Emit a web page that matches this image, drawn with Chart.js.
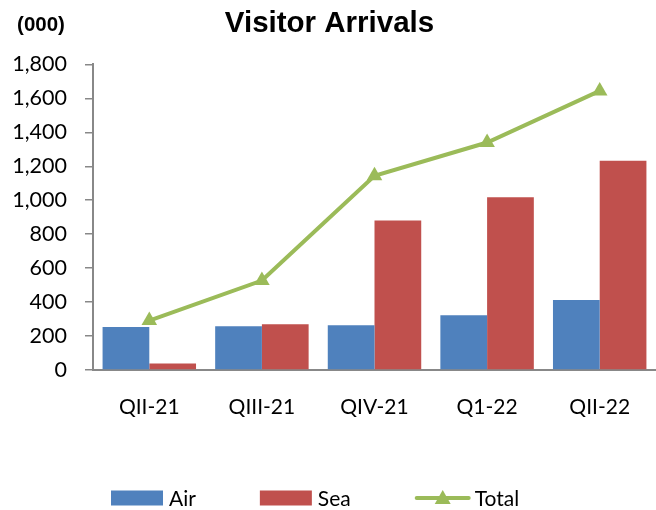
<!DOCTYPE html>
<html>
<head>
<meta charset="utf-8">
<script src="https://cdn.jsdelivr.net/npm/chart.js@4.4.1/dist/chart.umd.min.js"></script>
<style>
  html, body { margin: 0; padding: 0; background: #fff; }
  #wrap { width: 656px; height: 510px; }
</style>
</head>
<body>
<div id="wrap"><canvas id="myChart"></canvas></div>
<script>
// data, thousands
const quarters = ['QII-21', 'QIII-21', 'QIV-21', 'Q1-22', 'QII-22'];
const air   = [253, 258, 263, 322, 412];
const sea   = [38, 269, 881, 1018, 1232];
const total = [291, 527, 1144, 1340, 1644];
const yTicks = [0, 200, 400, 600, 800, 1000, 1200, 1400, 1600, 1800];

const blue = '#4F81BD', red = '#C0504D', green = '#9BBB59', grey = '#888888';
const bodyFont = 'Lato, "Open Sans", sans-serif';

// "(000)" unit label top left
const unitLabel = {
  id: 'unitLabel',
  afterDraw(chart) {
    let c = chart.ctx;
    c.save();
    c.font = 'bold 20.5px "Liberation Sans", Arial, sans-serif';
    c.fillStyle = '#000';
    c.textAlign = 'center';
    c.textBaseline = 'middle';
    c.fillText('(000)', 41, 25);
    c.restore();
  }
};

// legend along the bottom, drawn by hand so the spacing matches
const bottomLegend = {
  id: 'bottomLegend',
  afterDraw(chart) {
    let c = chart.ctx;
    let x = 111, yc = 498;
    c.save();
    c.font = '21px ' + bodyFont;
    c.textBaseline = 'middle';
    c.fillStyle = '#000';
    chart.data.datasets.forEach((ds) => {
      if (ds.type === 'line') {
        c.strokeStyle = ds.borderColor; c.lineWidth = 4; c.lineCap = 'round';
        c.beginPath(); c.moveTo(x + 2, yc); c.lineTo(x + 54, yc); c.stroke();
        c.fillStyle = ds.borderColor;
        c.beginPath(); c.moveTo(x + 28, yc - 8); c.lineTo(x + 36, yc + 6); c.lineTo(x + 20, yc + 6); c.closePath(); c.fill();
        x += 60;
      } else {
        c.fillStyle = ds.backgroundColor;
        c.fillRect(x, yc - 7.5, 52, 15);
        x += 58;
      }
      c.fillStyle = '#000';
      c.fillText(ds.label, x, yc + 1);
      x += c.measureText(ds.label).width + 64;
    });
    c.restore();
  }
};

let ctx = document.getElementById('myChart');
new Chart(ctx, {
  type: 'bar',
  data: {
    labels: quarters,
    datasets: [{
      label: 'Air',
      data: air,
      backgroundColor: blue,
      order: 2
    }, {
      label: 'Sea',
      data: sea,
      backgroundColor: red,
      order: 2
    }, {
      label: 'Total',
      type: 'line',
      data: total,
      borderColor: green,
      backgroundColor: green,
      borderWidth: 4,
      tension: 0,
      pointStyle: 'triangle',
      pointRadius: 9,
      pointBackgroundColor: green,
      pointBorderColor: green,
      pointBorderWidth: 0,
      order: 1
    }]
  },
  options: {
    responsive: true,
    maintainAspectRatio: false,
    animation: false,
    categoryPercentage: 0.83,
    barPercentage: 1.0,
    layout: {
      autoPadding: false,
      padding: { left: 0, right: -3, top: 0, bottom: 80 }
    },
    scales: {
      y: {
        min: 0,
        max: 1800,
        afterBuildTicks: (axis) => { axis.ticks = yTicks.map(v => ({ value: v })); },
        afterFit: (axis) => { axis.width = 93; },
        border: { display: true, color: grey, width: 2 },
        grid: { display: true, drawOnChartArea: false, drawTicks: true, tickLength: 8, color: grey, lineWidth: 1.5 },
        ticks: {
          padding: 18,
          color: '#000',
          font: { family: bodyFont, size: 21.5 },
          callback: (v) => v.toLocaleString('en-US')
        }
      },
      x: {
        afterFit: (axis) => {
          axis.height = 60;
          axis.paddingLeft = 0;
          axis.paddingRight = 0;
        },
        border: { display: true, color: grey, width: 2 },
        grid: { display: false },
        ticks: {
          padding: 17,
          color: '#000',
          maxRotation: 0,
          font: { family: bodyFont, size: 21 }
        }
      }
    },
    plugins: {
      title: {
        display: true,
        text: 'Visitor Arrivals',
        color: '#000',
        font: { family: '"Liberation Sans", Arial, sans-serif', size: 29.5, weight: 'bold' },
        padding: { top: 6, bottom: 23 }
      },
      legend: { display: false },
      tooltip: { enabled: false }
    }
  },
  plugins: [unitLabel, bottomLegend]
});
</script>
</body>
</html>
